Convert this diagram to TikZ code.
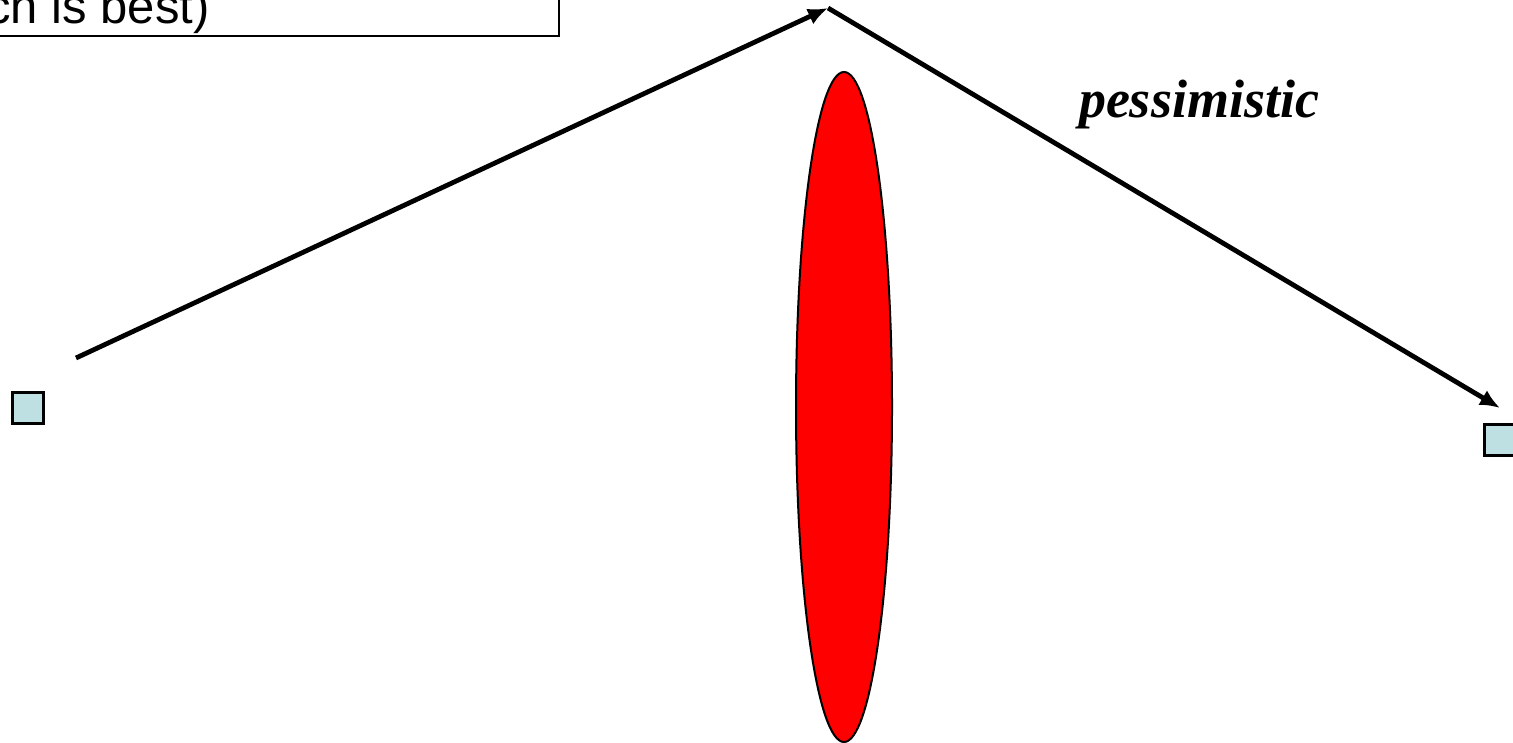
\documentclass[tikz,border=0pt]{standalone}
\usepackage{fontspec}
\setmainfont{Liberation Serif}
\newfontfamily\arialfont{Liberation Sans}
\usetikzlibrary{arrows.meta,shapes.geometric}
\definecolor{boxblue}{RGB}{190,224,227}
\begin{document}
\begin{tikzpicture}[x=0.5pt,y=-0.5pt,
  conn/.style={line width=2.4pt,-{Latex[length=10pt,width=8.5pt]}},
  sq/.style={draw=black,line width=1.6pt,fill=boxblue,minimum size=15.5pt,inner sep=0pt,rectangle},
  lbl/.style={font=\fontsize{27}{30}\selectfont\bfseries\itshape,inner sep=0pt}]
\useasboundingbox (0,0) rectangle (1513,743);
\clip (0,0) rectangle (1513,743);
% text box
\draw[line width=1.2pt] (-20,-40) rectangle (559,36);
\node[anchor=base east,inner sep=0pt,font=\arialfont\fontsize{24.5}{28}\selectfont] (tb) at (210,24) {ch is best)};
% ellipse
\node[draw=black,line width=1pt,fill=red,ellipse,minimum width=48pt,minimum height=335pt,inner sep=0pt] (ell) at (844,407) {};
% squares
\node[sq] (s1) at (28,408) {};
\node[sq] (s2) at (1500,440) {};
% connectors
\coordinate (start) at (76,358);
\coordinate (apex) at (828,8);
\coordinate (endp) at (1500,408);
\draw[conn] (start) -- (apex);
\draw[conn] (apex) -- (endp);
\node[lbl] (p) at (1199,105) {pessimistic};
\end{tikzpicture}
\end{document}
